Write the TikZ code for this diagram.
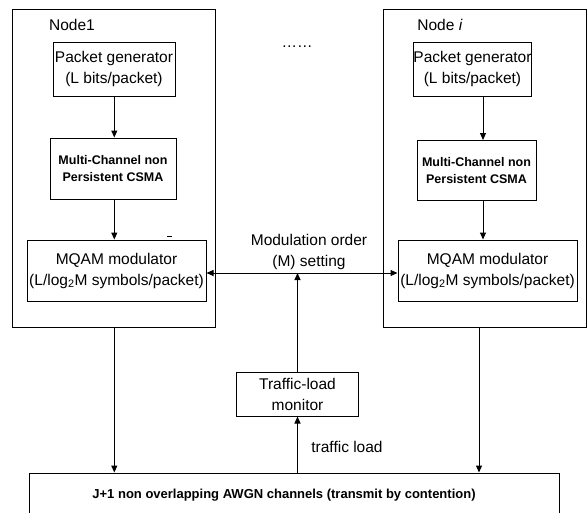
\documentclass[tikz,border=0pt]{standalone}
\usepackage{fontspec}
\setmainfont{Liberation Sans}
\usetikzlibrary{arrows.meta,calc}
\begin{document}
\begin{tikzpicture}[x=1pt,y=-1pt,
  box/.style={draw, line width=1pt, inner sep=0pt, align=center, font=\fontsize{15.5}{21}\selectfont},
  bbox/.style={box, font=\fontsize{12.5}{17}\selectfont\bfseries},
  arr/.style={-{Triangle[length=7pt,width=6pt]}, line width=1pt},
  lbl/.style={inner sep=0pt, align=center, font=\fontsize{15.5}{21}\selectfont}]
\clip (0,0) rectangle (588,512);
\fill[white] (0,0) rectangle (588,512);
% outer node boxes
\node[box, minimum width=203, minimum height=318] (out1) at (113.5,168) {};
\node[box, minimum width=203, minimum height=318] (out2) at (485,168) {};
\node[lbl] (n1) at (72,25) {Node1};
\node[lbl] (ni) at (440,25) {Node \textit{i}};
\node[lbl] (dots) at (297,47) {……};
% left node
\node[box, minimum width=122, minimum height=54] (pg1) at (114,69) {Packet generator\\(L bits/packet)};
\node[bbox, minimum width=126, minimum height=61] (cs1) at (113,168.5) {Multi-Channel non\\Persistent CSMA};
\node[box, minimum width=179, minimum height=61] (mq1) at (116.5,270.5) {MQAM modulator\\(L/log\textsubscript{2}M symbols/packet)};
% right node
\node[box, minimum width=117, minimum height=54] (pg2) at (472.5,69) {Packet generator\\(L bits/packet)};
\node[bbox, minimum width=119, minimum height=60] (cs2) at (476.5,170.5) {Multi-Channel non\\Persistent CSMA};
\node[box, minimum width=179, minimum height=61] (mq2) at (487.5,270.5) {MQAM modulator\\(L/log\textsubscript{2}M symbols/packet)};
% monitor and channel
\node[box, minimum width=122, minimum height=44] (mon) at (297.5,394) {Traffic-load\\monitor};
\node[box, minimum width=530, minimum height=70] (chan) at (294,508) {};
\node[lbl, font=\fontsize{13}{17}\selectfont\bfseries] (chantext) at (284,495) {J+1 non overlapping AWGN channels (transmit by contention)};
\node[lbl] (modlbl) at (309,252) {Modulation order\\(M) setting};
\node[lbl] (tllbl) at (347,447) {traffic load};
% coordinates for connector columns
\coordinate (cl) at (114.3,0);
\coordinate (cr) at (483,0);
\coordinate (cor) at (479,0);
\coordinate (junc) at (297.5,273);
% connectors
\draw[arr] (cl |- pg1.south) -- (cl |- cs1.north);
\draw[arr] (cl |- cs1.south) -- (cl |- mq1.north);
\draw[arr] (cr |- pg2.south) -- (cr |- cs2.north);
\draw[arr] (cr |- cs2.south) -- (cr |- mq2.north);
\draw[arr] (cl |- out1.south) -- (cl |- chan.north);
\draw[arr] (cor |- out2.south) -- (cor |- chan.north);
\draw[arr] (junc |- mon.north) -- (junc);
\draw[arr] (junc) -- (junc -| mq1.east);
\draw[arr] (junc) -- (junc -| mq2.west);
\draw[arr] (junc |- chan.north) -- (junc |- mon.south);
% stray mark
\draw[line width=0.7pt] (167,236) -- (172,236);
\end{tikzpicture}
\end{document}
